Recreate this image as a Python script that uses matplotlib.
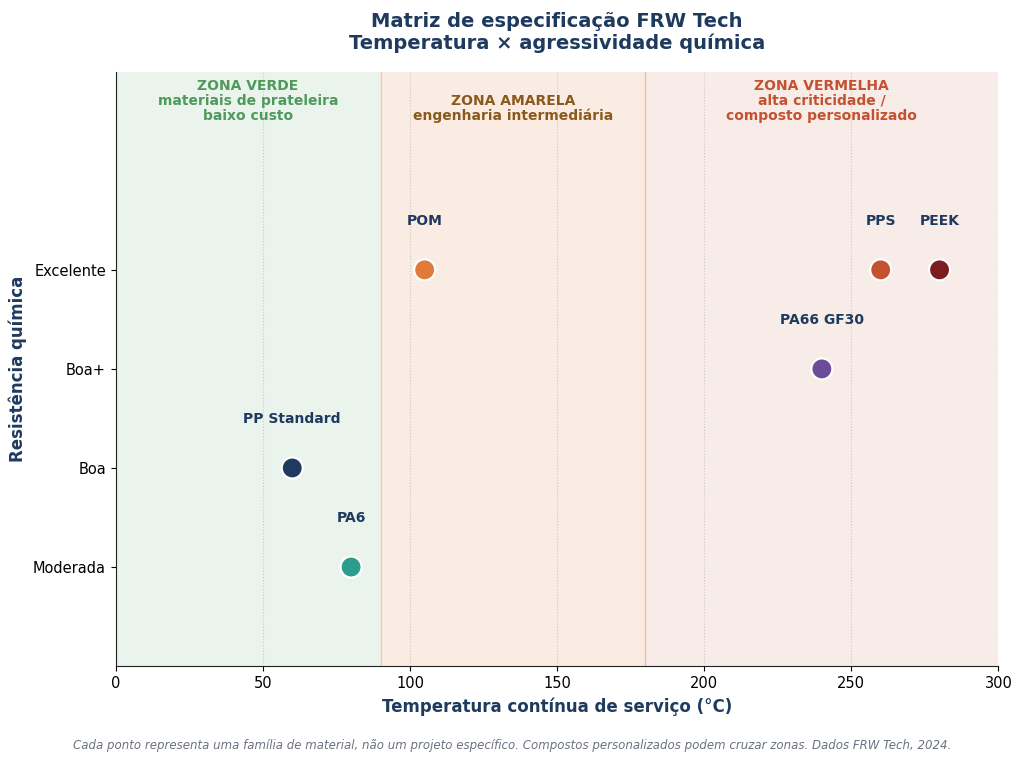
import numpy as np
import matplotlib.pyplot as plt

materials = ["PP Standard", "PA6", "POM", "PA66 GF30", "PPS", "PEEK"]
temps = [60, 80, 105, 240, 260, 280]
resist = [1, 0, 3, 2, 3, 3]
colors = ["#1f3a5f", "#2a9d8f", "#e07b39", "#6b4c9a", "#c4512f", "#7b1c1f"]
resist_labels = ["Moderada", "Boa", "Boa+", "Excelente"]

zone_edges = [(0, 90), (90, 180), (180, 300)]
zone_fill = ["#eaf3ec", "#fbece3", "#f7ece8"]
zone_text = ["ZONA VERDE\nmateriais de prateleira\nbaixo custo",
             "ZONA AMARELA\nengenharia intermediária",
             "ZONA VERMELHA\nalta criticidade /\ncomposto personalizado"]
zone_text_color = ["#4e9a5a", "#8a5a1c", "#c4512f"]
zone_text_y = [4.93, 4.78, 4.93]

navy = "#1f3a5f"

fig, ax = plt.subplots(figsize=(10.24, 7.63), dpi=100)
fig.subplots_adjust(left=0.113, right=0.975, top=0.906, bottom=0.127)

for (a, b), fc, txt, tc, ty in zip(zone_edges, zone_fill, zone_text, zone_text_color, zone_text_y):
    ax.axvspan(a, b, color=fc, zorder=0, lw=0)
    ax.text((a + b) / 2, ty, txt, ha="center", va="top", color=tc,
            fontsize=10, fontweight="bold", linespacing=1.12, zorder=3)
ax.axvline(90, color="#f3c9ae", lw=1, zorder=1)
ax.axvline(180, color="#f0b9a0", lw=1, zorder=1)

ax.scatter(temps, resist, s=230, c=colors, edgecolors="white", linewidths=1.6, zorder=4)
for name, t, r in zip(materials, temps, resist):
    ax.text(t, r + 0.49, name, ha="center", va="center", color=navy,
            fontsize=10, fontweight="bold", zorder=5)

ax.set_xlim(0, 300)
ax.set_ylim(-1, 5)
ax.set_xticks(np.arange(0, 301, 50))
ax.set_yticks(range(len(resist_labels)))
ax.set_yticklabels(resist_labels)
ax.tick_params(labelsize=10.5)
ax.grid(axis="x", linestyle=":", color="#c8c8c8", lw=0.8, zorder=1)
ax.set_axisbelow(True)
for s in ["top", "right"]:
    ax.spines[s].set_visible(False)
ax.spines["left"].set_color("#222222")
ax.spines["bottom"].set_color("#222222")

ax.set_xlabel("Temperatura contínua de serviço (°C)", fontsize=12,
              fontweight="bold", color=navy, labelpad=5)
ax.set_ylabel("Resistência química", fontsize=12, fontweight="bold", color=navy)
ax.set_title("Matriz de especificação FRW Tech\nTemperatura × agressividade química",
             fontsize=14, fontweight="bold", color=navy, pad=16)

fig.text(0.5, 0.023, "Cada ponto representa uma família de material, não um projeto específico. "
         "Compostos personalizados podem cruzar zonas. Dados FRW Tech, 2024.",
         ha="center", va="center", fontsize=8.5, style="italic", color="#6b7280")

fig.savefig("out.png", dpi=100)
